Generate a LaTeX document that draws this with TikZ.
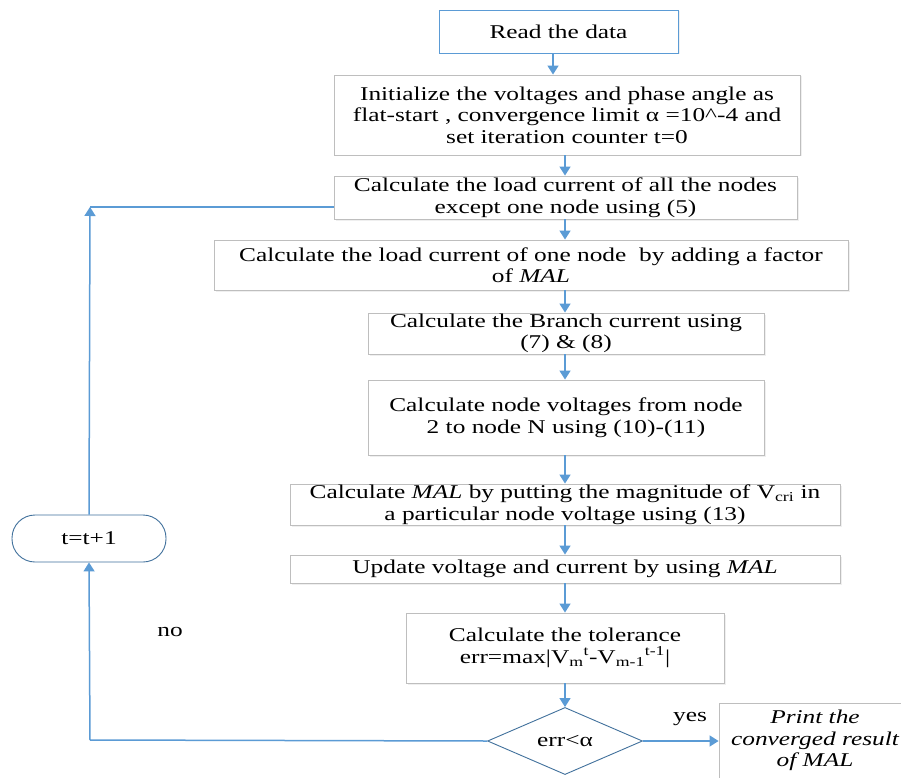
\documentclass[tikz,border=0pt]{standalone}
\usepackage{fontspec}
\setmainfont{Liberation Serif}[FakeStretch=1.3]
\usetikzlibrary{arrows.meta,shapes.geometric,shadows}
\definecolor{lineblue}{RGB}{91,155,213}
\definecolor{darkblue}{RGB}{65,113,156}
\definecolor{boxgray}{RGB}{190,190,190}
\tikzset{
  procbox/.style={draw=boxgray, line width=0.9pt, fill=white, align=center, inner sep=0pt,
    drop shadow={shadow xshift=1.5pt, shadow yshift=-1.5pt, fill=black!12}},
  flowarrow/.style={draw=lineblue, line width=1.5pt, -{Triangle[width=11pt,length=9pt]}},
  flowline/.style={draw=lineblue, line width=1.5pt},
  lbl/.style={inner sep=0pt}
}
\newcommand{\bodyfont}{\fontsize{19.5}{21.5}\selectfont}
\begin{document}
\begin{tikzpicture}[x=1pt,y=-1pt, every node/.style={font=\bodyfont}]
\useasboundingbox[fill=white] (0,0) rectangle (901,778);

\node[procbox, draw=lineblue, minimum width=239pt, minimum height=43pt] (read) at (558.5,31.5) {Read the data};
\node[procbox, minimum width=466pt, minimum height=80pt] (init) at (567,115) {Initialize the voltages and phase angle as\\flat-start , convergence limit α =10\textasciicircum-4 and\\set iteration counter t=0};
\node[procbox, minimum width=463pt, minimum height=43pt] (load) at (565.5,197.5) {Calculate the load current of all the nodes\\except one node using (5)};
\node[procbox, minimum width=634pt, minimum height=50pt] (one) at (531,265) {Calculate the load current of one node\ \ by adding a factor\\of \textit{MAL}};
\node[procbox, minimum width=396pt, minimum height=41pt] (branch) at (566,333.5) {Calculate the Branch current using\\(7) \& (8)};
\node[procbox, minimum width=396pt, minimum height=75pt] (volt) at (566,417.5) {Calculate node voltages from node\\2 to node N using (10)-(11)};
\node[procbox, minimum width=550pt, minimum height=41pt] (mal) at (565,504.5) {Calculate \textit{MAL} by putting the magnitude of V\textsubscript{cri} in\\a particular node voltage using (13)};
\node[procbox, minimum width=550pt, minimum height=28pt] (upd) at (565,569) {Update voltage and current by using \textit{MAL}};
\node[procbox, minimum width=318pt, minimum height=70pt] (tol) at (565,648) {Calculate the tolerance\\err=max|V\textsubscript{m}\textsuperscript{t}-V\textsubscript{m-1}\textsuperscript{t-1}|};
\node[diamond, draw=darkblue, line width=0.9pt, fill=white, minimum width=155pt, minimum height=60pt, inner sep=0pt] (dec) at (565,741) {err<α};
\node[procbox, minimum width=192pt, minimum height=75pt, font=\bodyfont\itshape] (print) at (815,740.5) {Print the\\converged result\\of MAL};
\node[draw=darkblue, line width=0.9pt, fill=white, rounded corners=23pt, minimum width=154pt, minimum height=47pt, inner sep=0pt] (inc) at (89,538.5) {t=t+1};

\coordinate (corner) at (90,207);
\coordinate (bottom) at (90,740);

\draw[flowarrow] (read.south -| 553,0) -- (init.north -| 553,0);
\draw[flowarrow] (init.south -| 565,0) -- (load.north -| 565,0);
\draw[flowarrow] (load.south -| 565,0) -- (one.north -| 565,0);
\draw[flowarrow] (one.south -| 565,0) -- (branch.north -| 565,0);
\draw[flowarrow] (branch.south -| 565,0) -- (volt.north -| 565,0);
\draw[flowarrow] (volt.south -| 565,0) -- (mal.north -| 565,0);
\draw[flowarrow] (mal.south -| 565,0) -- (upd.north -| 565,0);
\draw[flowarrow] (upd.south -| 565,0) -- (tol.north -| 565,0);
\draw[flowarrow] (tol.south -| 565,0) -- (dec.north);
\draw[flowarrow] (dec.east) -- (print.west |- dec.east);
\draw[flowline] (dec.west) -- (bottom);
\draw[flowarrow] (bottom) -- (inc.south);
\draw[flowarrow] (inc.north) -- (corner);
\draw[flowline] (corner) -- (load.west |- corner);

\node[lbl] (yes) at (690,719) {yes};
\node[lbl] (no) at (170,632) {no};
\end{tikzpicture}
\end{document}
